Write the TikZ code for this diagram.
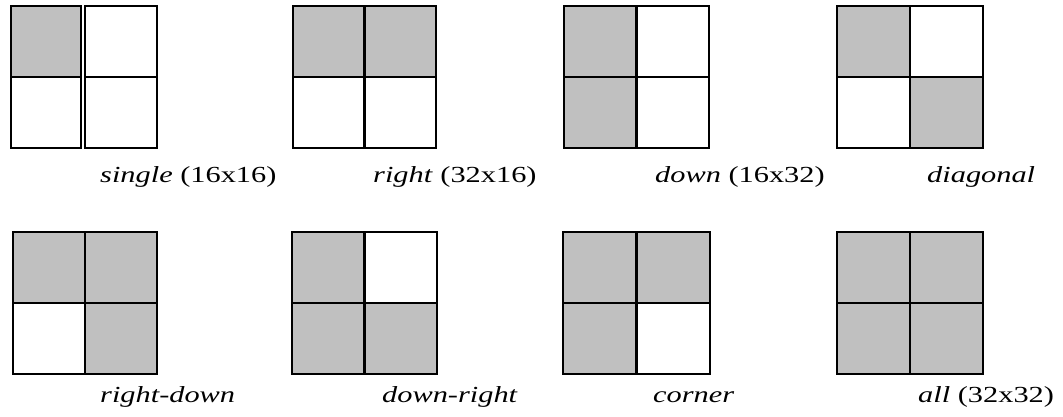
\documentclass[tikz,border=0pt]{standalone}
\usepackage{fontspec}
\setmainfont{Liberation Serif}[FakeStretch=1.32]
\definecolor{shade}{RGB}{192,192,192}
% one 2x2 block: #1 left, #2 right, #3 top, #4 bottom, #5-#8 fills (TL, TR, BL, BR)
\newcommand\quadblock[8]{%
  \path[cell,fill=#5] (#1,#3) rectangle ({(#1+#2)/2},{(#3+#4)/2});
  \path[cell,fill=#6] ({(#1+#2)/2},#3) rectangle (#2,{(#3+#4)/2});
  \path[cell,fill=#7] (#1,{(#3+#4)/2}) rectangle ({(#1+#2)/2},#4);
  \path[cell,fill=#8] ({(#1+#2)/2},{(#3+#4)/2}) rectangle (#2,#4);
}
\begin{document}
\begin{tikzpicture}[x=1pt,y=-1pt,
  cell/.style={draw=black,line width=2.7pt},
  caption/.style={anchor=base west,inner sep=0pt,font=\fontsize{23}{25}\selectfont}]
\path[fill=white] (0,0) rectangle (1063,416);

% first block: two separate columns
\path[cell,fill=shade] (11,6) rectangle (81,77);
\path[cell,fill=white] (11,77) rectangle (81,148);
\path[cell,fill=white] (85,6) rectangle (157,77);
\path[cell,fill=white] (85,77) rectangle (157,148);

\quadblock{293}{436}{6}{148}{shade}{shade}{white}{white}
\quadblock{564}{709}{6}{148}{shade}{white}{shade}{white}
\quadblock{837}{983}{6}{148}{shade}{white}{white}{shade}

\quadblock{13}{157}{232}{374}{shade}{shade}{white}{shade}
\quadblock{292}{437}{232}{374}{shade}{white}{shade}{shade}
\quadblock{563}{710}{232}{374}{shade}{shade}{shade}{white}
\quadblock{837}{983}{232}{374}{shade}{shade}{shade}{shade}

\node[caption] (single)   at (100,182) {\textit{single} (16x16)};
\node[caption] (right)    at (373,182) {\textit{right} (32x16)};
\node[caption] (down)     at (655,182) {\textit{down} (16x32)};
\node[caption] (diagonal) at (927,182) {\textit{diagonal}};

\node[caption] (rightdown) at (100,402) {\textit{right-down}};
\node[caption] (downright) at (382,402) {\textit{down-right}};
\node[caption] (corner)    at (653,402) {\textit{corner}};
\node[caption] (all)       at (918,402) {\textit{all} (32x32)};
\end{tikzpicture}
\end{document}
